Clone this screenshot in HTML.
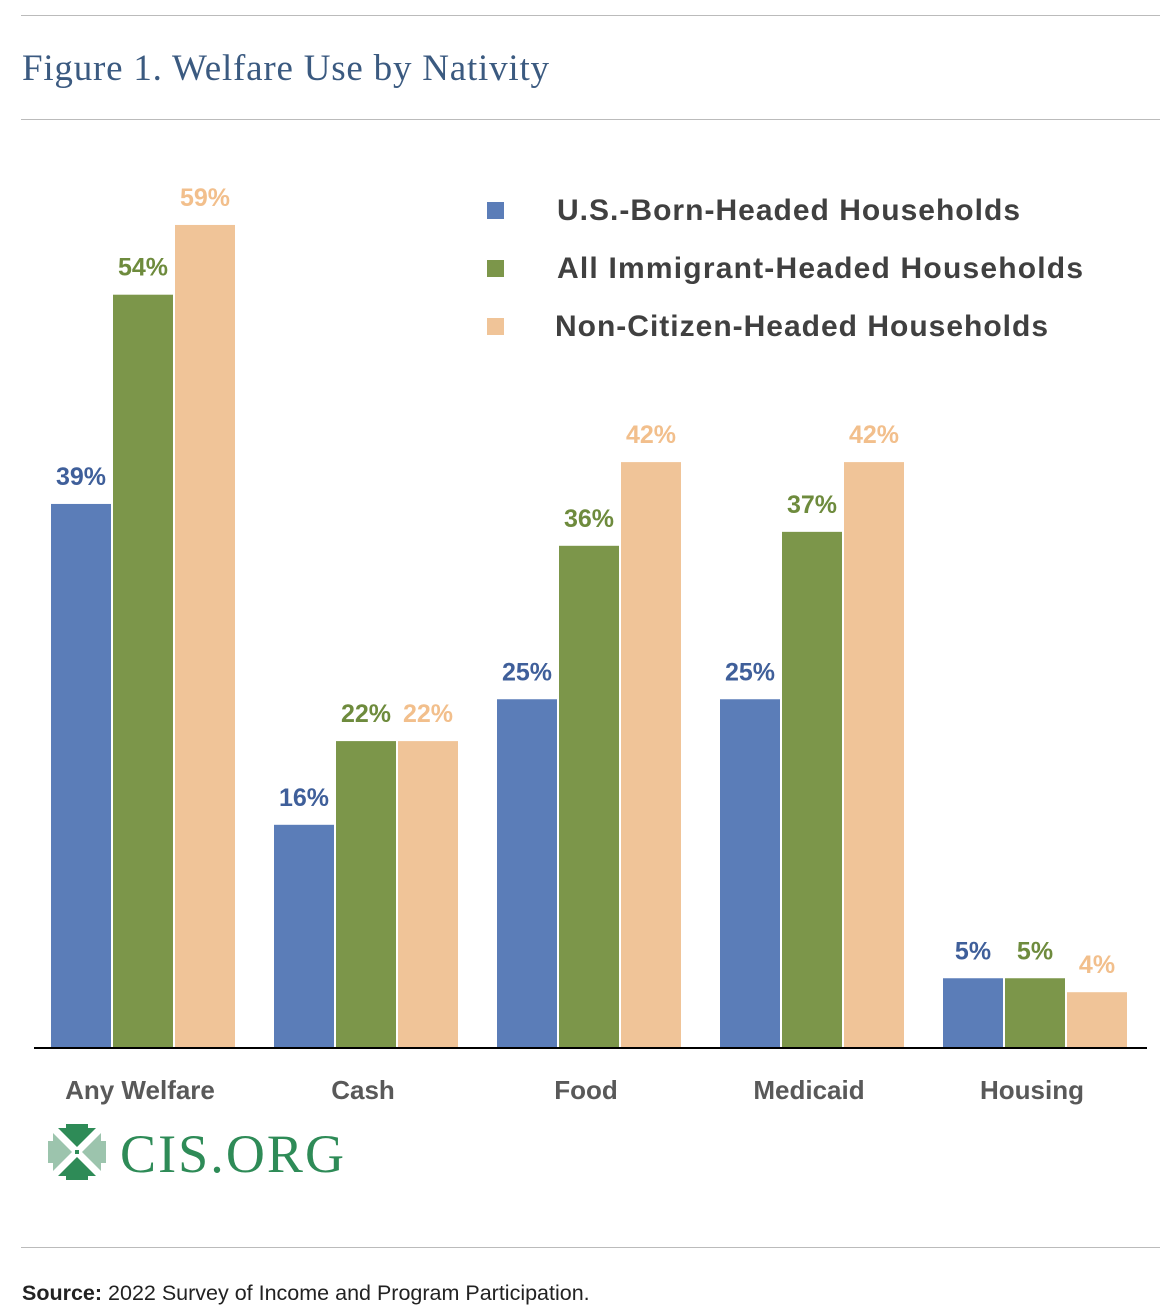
<!DOCTYPE html>
<html><head><meta charset="utf-8"><style>
body{margin:0;background:#fff}
svg{display:block}
</style></head><body>
<svg id="chart" width="1168" height="1305" viewBox="0 0 1168 1305" xmlns="http://www.w3.org/2000/svg">
<line x1="21" y1="15.5" x2="1160" y2="15.5" stroke="#bbb" stroke-width="1"/>
<text x="22" y="80" font-family="Liberation Serif, serif" font-size="37" fill="#3b5a80" textLength="527">Figure 1. Welfare Use by Nativity</text>
<line x1="21" y1="119.5" x2="1160" y2="119.5" stroke="#bbb" stroke-width="1"/>
<g id="bars"></g>
<line x1="34" y1="1048" x2="1147" y2="1048" stroke="#000" stroke-width="2"/>
<g id="legend"></g>
<g>
  <polygon points="58,1128 96,1128 77,1147 " fill="#2e8b57"/>
  <rect x="66" y="1124" width="22" height="8" fill="#2e8b57"/>
  <polygon points="58,1176 96,1176 77,1157" fill="#2e8b57"/>
  <rect x="66" y="1172" width="22" height="8" fill="#2e8b57"/>
  <polygon points="53,1133 53,1171 72,1152" fill="#9cc4ad"/>
  <rect x="48" y="1141" width="8" height="22" fill="#9cc4ad"/>
  <polygon points="101,1133 101,1171 82,1152" fill="#9cc4ad"/>
  <rect x="98" y="1141" width="8" height="22" fill="#9cc4ad"/>
  <rect x="75" y="1150" width="4" height="4" fill="#2e8b57"/>
  <text x="120" y="1172" font-family="Liberation Serif, serif" font-size="54" fill="#2e8b57" textLength="224">CIS.ORG</text>
</g>
<line x1="21" y1="1247.5" x2="1160" y2="1247.5" stroke="#bbb" stroke-width="1"/>
<text x="22" y="1300" font-family="Liberation Sans, sans-serif" font-size="21.5" fill="#222"><tspan font-weight="bold">Source:</tspan> 2022 Survey of Income and Program Participation.</text>
</svg>
<script>
const categories = ["Any Welfare","Cash","Food","Medicaid","Housing"];
const usBorn = [39,16,25,25,5];
const allImm = [54,22,36,37,5];
const nonCit = [59,22,42,42,4];
const seriesNames = ["U.S.-Born-Headed Households","All Immigrant-Headed Households","Non-Citizen-Headed Households"];
const series = [usBorn, allImm, nonCit];
const fills = ["#5b7db8","#7c964a","#f0c498"];
const textCols = ["#3f5f9a","#6e8b3d","#f2bf8c"];
const NS = "http://www.w3.org/2000/svg";
const baseY = 1048, pxPer = 13.95;
function y(v){ return baseY - v*pxPer; }
function groupX(i){ return 51 + i*223; }
function barX(i,s){ return groupX(i) + s*62; }
const bars = document.getElementById('bars');
const svg = document.getElementById('chart');
categories.forEach((c,i)=>{
  series.forEach((arr,s)=>{
    const r = document.createElementNS(NS,'rect');
    
    
    r.setAttribute('x', barX(i,s)); r.setAttribute('y', y(arr[i]));
    r.setAttribute('width', 60); r.setAttribute('height', baseY - y(arr[i]));
    r.setAttribute('fill', fills[s]);
    bars.appendChild(r);
    const t = document.createElementNS(NS,'text');
    
    
    t.setAttribute('x', barX(i,s)+30); t.setAttribute('y', y(arr[i]) - 19);
    t.setAttribute('text-anchor','middle');
    t.setAttribute('font-family','Liberation Sans, sans-serif');
    t.setAttribute('font-weight','bold'); t.setAttribute('font-size','25');
    t.setAttribute('fill', textCols[s]);
    t.textContent = arr[i] + '%';
    bars.appendChild(t);
  });
  const l = document.createElementNS(NS,'text');
  
  
  l.setAttribute('x', groupX(i)+89); l.setAttribute('y', 1099);
  l.setAttribute('text-anchor','middle');
  l.setAttribute('font-family','Liberation Sans, sans-serif');
  l.setAttribute('font-weight','bold'); l.setAttribute('font-size','26');
  l.setAttribute('fill','#595959');
  l.textContent = c;
  svg.appendChild(l);
});
const legend = document.getElementById('legend');
seriesNames.forEach((n,s)=>{
  const r = document.createElementNS(NS,'rect');
  
  
  r.setAttribute('x', 487); r.setAttribute('y', 202 + s*58);
  r.setAttribute('width', 17); r.setAttribute('height', 17);
  r.setAttribute('fill', fills[s]);
  legend.appendChild(r);
  const t = document.createElementNS(NS,'text');
  
  
  t.setAttribute('x', s==2 ? 555 : 557); t.setAttribute('y', 220 + s*58);
  t.setAttribute('font-family','Liberation Sans, sans-serif');
  t.setAttribute('font-weight','bold'); t.setAttribute('font-size','30');
  t.setAttribute('fill','#404040');
  t.setAttribute('textLength', [463,526,493][s]);
  t.textContent = n;
  legend.appendChild(t);
});
</script>
</body></html>
